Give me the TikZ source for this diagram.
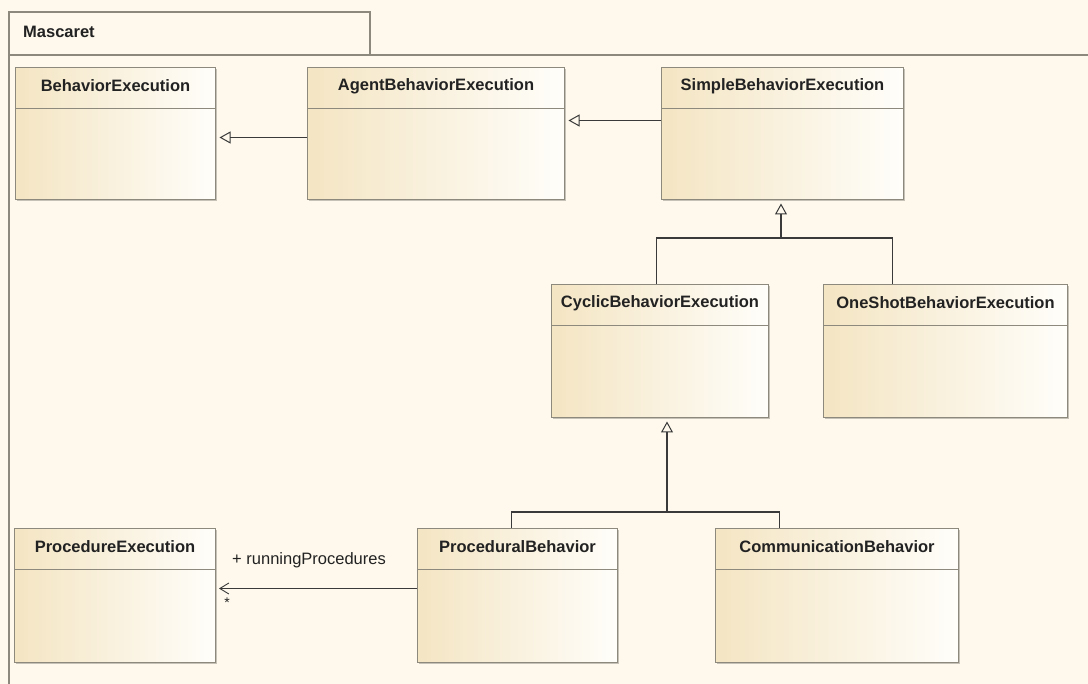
\documentclass[tikz,border=0pt]{standalone}
\usepackage{fontspec}
\setmainfont{Liberation Sans}
\usetikzlibrary{arrows.meta,shadows,calc}

\definecolor{paper}{HTML}{FEF9EC}
\definecolor{boxL}{HTML}{F4E5C3}
\definecolor{boxR}{HTML}{FFFEFA}
\definecolor{edge}{HTML}{8E897D}
\definecolor{ink}{HTML}{222222}
\definecolor{wire}{HTML}{3A3A3A}

\tikzset{
  classbox/.style={rectangle, draw=edge, line width=1pt, inner sep=0pt,
    anchor=north west, left color=boxL, right color=boxR,
    drop shadow={shadow xshift=1.3pt, shadow yshift=-1.3pt, fill=black, opacity=0.22}},
  classtitle/.style={inner sep=0pt, text=ink, font=\bfseries\fontsize{16.5}{18}\selectfont},
  sepline/.style={draw=edge, line width=1pt},
  frameline/.style={draw=edge, line width=1.1pt},
  conn/.style={draw=wire, line width=1.1pt},
  gen/.style={conn, -{Triangle[open, length=11pt, width=12pt, line width=1pt]}, shorten >=3.5pt},
  assoc/.style={conn, -{Straight Barb[length=9pt, width=11pt, line width=0.9pt]}, shorten >=3pt},
  rolelabel/.style={inner sep=0pt, text=ink, font=\fontsize{16.5}{18}\selectfont},
}

% \umlclass{name}{x1}{y1}{x2}{y2}{title}
\newcommand\umlclass[6]{%
  \node[classbox, minimum width={(#4-#2)*1pt}, minimum height={(#5-#3)*1pt}] (#1) at (#2,#3) {};
  \node[classtitle] (#1-title) at ([yshift=-19pt]#1.north) {#6};
  \draw[sepline] ([yshift=-42pt]#1.north west) -- ([yshift=-42pt]#1.north east);
}

\begin{document}
\begin{tikzpicture}[x=1pt, y=-1pt]
  \useasboundingbox (0,0) rectangle (1088,684);
  \fill[paper] (0,0) rectangle (1088,684);

  % package frame with its name tab
  \draw[frameline] (9,690) -- (9,12) -- (370,12) -- (370,55);
  \draw[frameline] (9,55) -- (1095,55);
  \node[classtitle, anchor=west] (pkg) at (23,32) {Mascaret};

  % classes
  \umlclass{be}{15}{67}{215}{199}{BehaviorExecution}
  \umlclass{abe}{307}{67}{564}{199}{AgentBehaviorExecution}
  \umlclass{sbe}{661}{67}{903}{199}{SimpleBehaviorExecution}
  \umlclass{cbe}{551}{284}{768}{417}{CyclicBehaviorExecution}
  \umlclass{obe}{823}{284}{1067}{417}{OneShotBehaviorExecution}
  \umlclass{pe}{14}{528}{215}{662}{ProcedureExecution}
  \umlclass{pb}{417}{528}{617}{662}{ProceduralBehavior}
  \umlclass{cb}{715}{528}{958}{662}{CommunicationBehavior}

  % generalizations along the top row
  \draw[gen] ([yshift=-4pt]abe.west) -- ([yshift=-4pt]be.east);
  \draw[gen] ([yshift=13pt]sbe.west) -- ([yshift=13pt]abe.east);

  % Cyclic / OneShot specialise SimpleBehaviorExecution
  \coordinate (t1) at (781,238);
  \draw[conn] ([xshift=-3.5pt]cbe.north) |- (t1);
  \draw[conn] ([xshift=-53pt]obe.north) |- (t1);
  \draw[gen] (t1) -- (sbe.south -| t1);

  % Procedural / Communication specialise CyclicBehaviorExecution
  \coordinate (t2) at (667,512);
  \draw[conn] ([xshift=-6pt]pb.north) |- (t2);
  \draw[conn] ([xshift=-57.5pt]cb.north) |- (t2);
  \draw[gen] (t2) -- (cbe.south -| t2);

  % association ProceduralBehavior -> ProcedureExecution
  \draw[assoc] ([yshift=7pt]pb.west) -- ([yshift=7pt]pe.east);
  \node[rolelabel, anchor=base west] (role) at (232,565) {+ runningProcedures};
  \node[inner sep=0pt, text=ink, font=\fontsize{14}{14}\selectfont] (mult) at (227,603) {*};
\end{tikzpicture}
\end{document}
